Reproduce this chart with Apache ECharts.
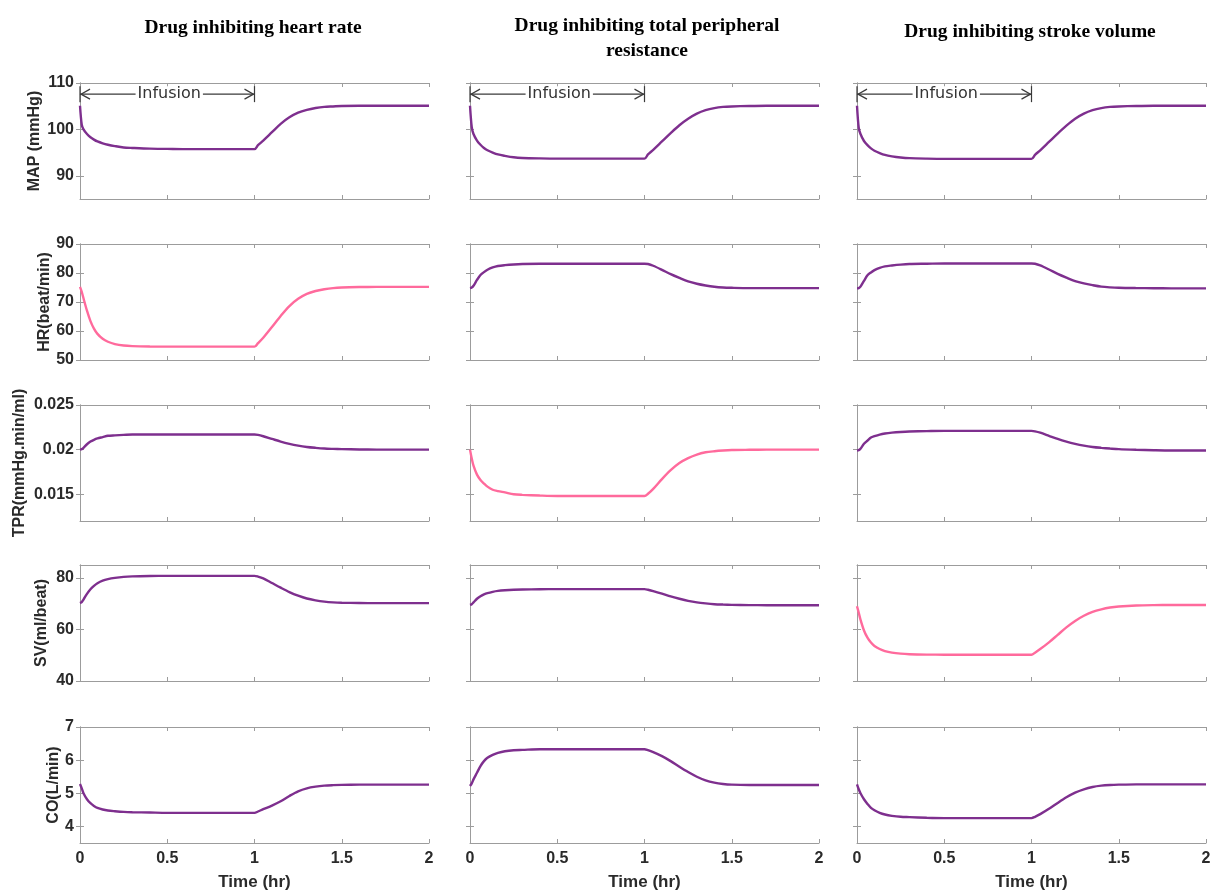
<!DOCTYPE html>
<html>
<head>
<meta charset="utf-8">
<script src="https://cdn.jsdelivr.net/npm/echarts@6/dist/echarts.min.js"></script>
<style>
  html, body { margin: 0; padding: 0; background: #ffffff; }
  #chart { width: 1216px; height: 895px; }
</style>
</head>
<body>
<div id="chart"></div>
<script>
// Time samples (hr) shared by every trace
const hours = [0, 0.01, 0.02, 0.04, 0.06, 0.08, 0.1, 0.13, 0.16, 0.2, 0.25, 0.3, 0.4, 0.5, 0.6, 0.8,
               1.0, 1.02, 1.05, 1.1, 1.15, 1.2, 1.25, 1.3, 1.35, 1.4, 1.45, 1.5, 1.6, 1.7, 1.8, 2.0];

const columnTitles = [
  'Drug inhibiting heart rate',
  'Drug inhibiting total peripheral\nresistance',
  'Drug inhibiting stroke volume'
];
const rowNames = ['MAP (mmHg)', 'HR(beat/min)', 'TPR(mmHg.min/ml)', 'SV(ml/beat)', 'CO(L/min)'];
const rowMin = [85, 50, 0.012, 40, 3.5];
const rowMax = [110, 90, 0.025, 85, 7];
const rowTicks = [[90, 100, 110], [50, 60, 70, 80, 90], [0.015, 0.02, 0.025], [40, 60, 80], [4, 5, 6, 7]];
const timeTicks = [0, 0.5, 1, 1.5, 2];

// Infusion period marker (start hr, end hr, MAP level where the bracket sits)
const infusion = [0, 1, 107.6];

// Drug inhibiting heart rate
const mapHR = [105.1, 101.0, 100.0, 99.0, 98.3, 97.8, 97.4, 97.0, 96.7, 96.4, 96.1, 96.0, 95.85, 95.8, 95.75, 95.75,
               95.75, 96.6, 97.6, 99.4, 101.2, 102.6, 103.6, 104.2, 104.6, 104.85, 104.95, 105.05, 105.1, 105.1, 105.1, 105.1];
const hrHR  = [75.2, 73.5, 71.3, 67.0, 63.4, 60.8, 59.0, 57.3, 56.3, 55.5, 55.0, 54.8, 54.65, 54.6, 54.6, 54.6,
               54.6, 55.8, 57.7, 61.4, 65.2, 68.6, 71.1, 72.8, 73.8, 74.4, 74.8, 75.0, 75.15, 75.2, 75.2, 75.2];
const tprHR = [0.0200, 0.02005, 0.0202, 0.0206, 0.0209, 0.0211, 0.02125, 0.0214, 0.02155, 0.0216, 0.02165, 0.0217, 0.0217, 0.0217, 0.0217, 0.0217,
               0.0217, 0.02165, 0.0215, 0.0212, 0.0209, 0.02065, 0.02045, 0.0203, 0.0202, 0.02012, 0.02008, 0.02005, 0.02002, 0.0200, 0.0200, 0.0200];
const svHR  = [70.2, 70.6, 71.6, 73.8, 75.6, 76.9, 77.9, 78.9, 79.5, 80.0, 80.4, 80.6, 80.75, 80.8, 80.8, 80.8,
               80.8, 80.5, 79.8, 78.0, 76.2, 74.5, 73.1, 72.0, 71.3, 70.8, 70.5, 70.35, 70.25, 70.2, 70.2, 70.2];
const coHR  = [5.28, 5.15, 5.0, 4.82, 4.7, 4.62, 4.56, 4.51, 4.48, 4.46, 4.44, 4.43, 4.42, 4.41, 4.41, 4.41,
               4.41, 4.45, 4.52, 4.63, 4.76, 4.92, 5.06, 5.15, 5.2, 5.23, 5.245, 5.255, 5.26, 5.26, 5.26, 5.26];

// Drug inhibiting total peripheral resistance
const mapTPR = [105.1, 100.5, 99.0, 97.6, 96.7, 96.0, 95.5, 95.0, 94.6, 94.3, 94.0, 93.85, 93.75, 93.7, 93.7, 93.7,
                93.7, 94.6, 95.6, 97.4, 99.2, 100.9, 102.3, 103.4, 104.15, 104.6, 104.85, 104.95, 105.05, 105.1, 105.1, 105.1];
const hrTPR  = [74.8, 75.0, 75.6, 77.6, 79.3, 80.3, 81.1, 81.9, 82.4, 82.7, 82.95, 83.1, 83.2, 83.2, 83.2, 83.2,
                83.2, 83.1, 82.5, 81.1, 79.6, 78.3, 77.1, 76.3, 75.7, 75.25, 75.0, 74.9, 74.8, 74.8, 74.8, 74.8];
const tprTPR = [0.0200, 0.0190, 0.0182, 0.0172, 0.0166, 0.0162, 0.01585, 0.0155, 0.01535, 0.0152, 0.0150, 0.01493, 0.01485, 0.0148, 0.0148, 0.0148,
                0.0148, 0.01505, 0.0156, 0.0167, 0.0177, 0.0185, 0.01905, 0.01945, 0.0197, 0.01982, 0.0199, 0.01995, 0.01998, 0.0200, 0.0200, 0.0200];
const svTPR  = [69.5, 69.8, 70.5, 71.9, 72.9, 73.6, 74.1, 74.6, 74.95, 75.2, 75.4, 75.5, 75.6, 75.65, 75.65, 75.65,
                75.65, 75.4, 74.9, 73.9, 72.8, 71.9, 71.1, 70.5, 70.1, 69.8, 69.65, 69.55, 69.45, 69.4, 69.4, 69.4];
const coTPR  = [5.22, 5.3, 5.42, 5.62, 5.82, 5.97, 6.07, 6.16, 6.22, 6.27, 6.3, 6.31, 6.33, 6.33, 6.33, 6.33,
                6.33, 6.3, 6.24, 6.12, 5.97, 5.8, 5.64, 5.5, 5.39, 5.32, 5.28, 5.26, 5.25, 5.25, 5.25, 5.25];

// Drug inhibiting stroke volume
const mapSV = [105.1, 100.3, 99.0, 97.5, 96.6, 95.9, 95.4, 94.9, 94.5, 94.2, 93.95, 93.8, 93.7, 93.65, 93.65, 93.65,
               93.65, 94.5, 95.5, 97.3, 99.1, 100.8, 102.3, 103.4, 104.15, 104.6, 104.85, 104.95, 105.05, 105.1, 105.1, 105.1];
const hrSV  = [74.7, 74.8, 75.3, 77.3, 79.2, 80.2, 81.0, 81.8, 82.3, 82.6, 82.9, 83.1, 83.2, 83.3, 83.3, 83.3,
               83.3, 83.2, 82.6, 81.2, 79.7, 78.4, 77.2, 76.4, 75.8, 75.3, 75.05, 74.9, 74.8, 74.75, 74.7, 74.7];
const tprSV = [0.0199, 0.01995, 0.0201, 0.02065, 0.0210, 0.02135, 0.0215, 0.02168, 0.0218, 0.0219, 0.02198, 0.02203, 0.02207, 0.0221, 0.0221, 0.0221,
               0.0221, 0.02205, 0.0219, 0.02155, 0.0212, 0.0209, 0.02065, 0.02045, 0.0203, 0.0202, 0.02012, 0.02005, 0.01998, 0.01993, 0.0199, 0.0199];
const svSV  = [69.0, 66.5, 63.8, 59.6, 56.8, 54.9, 53.6, 52.4, 51.6, 51.0, 50.6, 50.4, 50.25, 50.2, 50.2, 50.2,
               50.2, 51.0, 52.4, 55.0, 57.9, 60.8, 63.3, 65.3, 66.8, 67.8, 68.5, 68.9, 69.3, 69.45, 69.5, 69.5];
const coSV  = [5.27, 5.12, 5.0, 4.82, 4.68, 4.56, 4.49, 4.41, 4.36, 4.32, 4.29, 4.28, 4.26, 4.25, 4.25, 4.25,
               4.25, 4.29, 4.37, 4.53, 4.71, 4.88, 5.02, 5.12, 5.19, 5.23, 5.25, 5.26, 5.27, 5.27, 5.27, 5.27];

// panel values indexed [row][column]
const panels = [
  [mapHR, mapTPR, mapSV],
  [hrHR, hrTPR, hrSV],
  [tprHR, tprTPR, tprSV],
  [svHR, svTPR, svSV],
  [coHR, coTPR, coSV]
];
// the variable each drug acts on directly (row index per column)
const targetRow = [1, 2, 3];

// ---- layout & styling ----
const colLeft = [80, 470, 857];
const plotW = 349;
const rowTop = [83, 244, 405, 565, 727];
const plotH = 116;
const nameGaps = [37, 27, 52, 30, 18];
const PURPLE = '#7E2F8E';
const PINK = '#FF6A9C';
const FRAME = '#9c9c9c';
const INK = '#2a2a2a';
const SANS = '"Liberation Sans", Arial, sans-serif';

const grids = [], xAxes = [], yAxes = [], series = [];

for (let r = 0; r < 5; r++) {
  for (let c = 0; c < 3; c++) {
    const g = grids.length;
    grids.push({ left: colLeft[c], top: rowTop[r], width: plotW, height: plotH, containLabel: false });
    const lastRow = r === 4;
    const frameLine = { show: true, lineStyle: { color: FRAME, width: 1 } };
    const tick = { show: true, inside: true, length: 4, lineStyle: { color: FRAME } };
    // bottom and top time axes
    xAxes.push({
      gridIndex: g, type: 'value', min: 0, max: 2, interval: 0.5, position: 'bottom',
      axisLine: frameLine, axisTick: tick, splitLine: { show: false },
      axisLabel: { show: lastRow, margin: 8, color: INK, fontFamily: SANS, fontWeight: 'bold', fontSize: 16,
                   formatter: v => String(v) },
      name: lastRow ? 'Time (hr)' : '', nameLocation: 'middle', nameGap: 31,
      nameTextStyle: { color: INK, fontFamily: SANS, fontWeight: 'bold', fontSize: 17 }
    });
    xAxes.push({
      gridIndex: g, type: 'value', min: 0, max: 2, interval: 0.5, position: 'top',
      axisLine: frameLine, axisTick: tick, splitLine: { show: false }, axisLabel: { show: false }
    });
    // left and right value axes
    yAxes.push({
      gridIndex: g, type: 'value', min: rowMin[r], max: rowMax[r], position: 'left',
      axisLine: frameLine, axisTick: Object.assign({}, tick, { customValues: rowTicks[r] }),
      splitLine: { show: false },
      axisLabel: { show: c === 0, customValues: rowTicks[r], margin: 6, color: INK, fontFamily: SANS,
                   fontWeight: 'bold', fontSize: 16, formatter: v => String(v) },
      name: c === 0 ? rowNames[r] : '', nameLocation: 'middle', nameRotate: 90, nameGap: nameGaps[r],
      nameTextStyle: { color: INK, fontFamily: SANS, fontWeight: 'bold', fontSize: 16 }
    });
    yAxes.push({
      gridIndex: g, type: 'value', min: rowMin[r], max: rowMax[r], position: 'right',
      axisLine: frameLine, axisTick: Object.assign({}, tick, { customValues: rowTicks[r] }),
      splitLine: { show: false }, axisLabel: { show: false }
    });

    const values = panels[r][c];
    series.push({
      type: 'line', xAxisIndex: 2 * g, yAxisIndex: 2 * g,
      data: hours.map((t, i) => [t, values[i]]),
      showSymbol: false, smooth: 0.3,
      lineStyle: { color: targetRow[c] === r ? PINK : PURPLE, width: 2.4 },
      silent: true, z: 3
    });

    if (r === 0) {
      series.push({
        type: 'custom', xAxisIndex: 2 * g, yAxisIndex: 2 * g, silent: true, z: 4,
        data: [infusion], encode: { x: [0, 1], y: 2 },
        renderItem: (params, api) => {
          const a = api.coord([api.value(0), api.value(2)]);
          const b = api.coord([api.value(1), api.value(2)]);
          const y = a[1], x0 = a[0], x1 = b[0];
          const s = { stroke: '#3a3a3a', lineWidth: 1.2, fill: null };
          return {
            type: 'group', children: [
              { type: 'line', shape: { x1: x0, y1: y, x2: x1, y2: y }, style: s },
              { type: 'line', shape: { x1: x0, y1: y - 8, x2: x0, y2: y + 8 }, style: s },
              { type: 'line', shape: { x1: x1, y1: y - 8, x2: x1, y2: y + 8 }, style: s },
              { type: 'polyline', shape: { points: [[x0 + 10, y - 5], [x0 + 1, y], [x0 + 10, y + 5]] }, style: s },
              { type: 'polyline', shape: { points: [[x1 - 10, y - 5], [x1 - 1, y], [x1 - 10, y + 5]] }, style: s },
              { type: 'text', x: (x0 + x1) / 2 + 2, y: y,
                style: { text: 'Infusion', align: 'center', verticalAlign: 'middle',
                         font: '16px "DejaVu Sans", sans-serif', fill: '#333333',
                         backgroundColor: '#ffffff', padding: [0, 2] } }
            ]
          };
        }
      });
    }
  }
}

// column headings
const titleX = [253, 647, 1030];
const titleY = [28, 38, 32];
const graphics = columnTitles.map((t, i) => ({
  type: 'text', x: titleX[i], y: titleY[i], silent: true,
  style: { text: t, align: 'center', verticalAlign: 'middle', fill: '#000000',
           font: 'bold 19.5px "Liberation Serif", "Times New Roman", serif', lineHeight: 25 }
}));

const chart = echarts.init(document.getElementById('chart'), null, { renderer: 'canvas' });
chart.setOption({
  animation: false,
  backgroundColor: '#ffffff',
  grid: grids,
  xAxis: xAxes,
  yAxis: yAxes,
  series: series,
  graphic: graphics
});
</script>
</body>
</html>
